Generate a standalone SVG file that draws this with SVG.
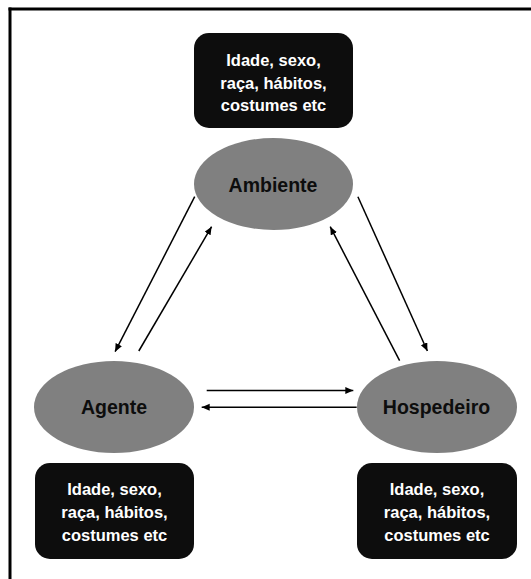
<svg xmlns="http://www.w3.org/2000/svg" width="531" height="579" viewBox="0 0 531 579">
<style>
.box{fill:#0d0d0d}
.btxt{fill:#ffffff;font-family:"Liberation Sans",Arial,sans-serif;font-weight:bold;font-size:16.5px;text-anchor:middle}
.ell{fill:#808080}
.etxt{fill:#0d0d0d;font-family:"Liberation Sans",Arial,sans-serif;font-weight:bold;font-size:19.5px;text-anchor:middle}
.conn line{stroke:#000;stroke-width:1.5;marker-end:url(#ah)}
.frame{stroke:#000;stroke-width:3;fill:none}
</style>
<defs>
<marker id="ah" markerUnits="userSpaceOnUse" markerWidth="9" markerHeight="8" refX="8" refY="3.5" orient="auto">
<path d="M0,0 L8,3.5 L0,7 z" fill="#000"/>
</marker>
</defs>
<rect width="531" height="579" fill="#fff"/>
<g id="frame">
<line class="frame" x1="8.5" y1="9" x2="531" y2="9"/>
<line class="frame" x1="10" y1="7.5" x2="10" y2="579"/>
</g>
<g id="box-top">
<rect class="box" x="194" y="33" width="159" height="95" rx="15"/>
<text class="btxt" x="273.5" y="66">Idade, sexo,</text>
<text class="btxt" x="273.5" y="88.5">raça, hábitos,</text>
<text class="btxt" x="273.5" y="111">costumes etc</text>
</g>
<g id="ambiente">
<ellipse class="ell" cx="273.5" cy="184" rx="79.5" ry="46"/>
<text class="etxt" x="273" y="191.5">Ambiente</text>
</g>
<g id="agente">
<ellipse class="ell" cx="114" cy="407" rx="80" ry="46"/>
<text class="etxt" x="114" y="414">Agente</text>
</g>
<g id="hospedeiro">
<ellipse class="ell" cx="437" cy="407" rx="80" ry="46"/>
<text class="etxt" x="436.5" y="414">Hospedeiro</text>
</g>
<g id="box-agente">
<rect class="box" x="35" y="463" width="159" height="96" rx="15"/>
<text class="btxt" x="114.5" y="495">Idade, sexo,</text>
<text class="btxt" x="114.5" y="518">raça, hábitos,</text>
<text class="btxt" x="114.5" y="541">costumes etc</text>
</g>
<g id="box-hospedeiro">
<rect class="box" x="357" y="463" width="160" height="96" rx="15"/>
<text class="btxt" x="437" y="495">Idade, sexo,</text>
<text class="btxt" x="437" y="518">raça, hábitos,</text>
<text class="btxt" x="437" y="541">costumes etc</text>
</g>
<g id="connectors" class="conn">
<line x1="194.7" y1="196.7" x2="115.1" y2="351.7"/>
<line x1="138.8" y1="351" x2="211.6" y2="226.7"/>
<line x1="357.9" y1="196.7" x2="427.4" y2="351"/>
<line x1="399.6" y1="360.7" x2="330.2" y2="226.7"/>
<line x1="206.7" y1="390.5" x2="353.3" y2="390.5"/>
<line x1="356.7" y1="407.3" x2="201.7" y2="407.3"/>
</g>
</svg>
